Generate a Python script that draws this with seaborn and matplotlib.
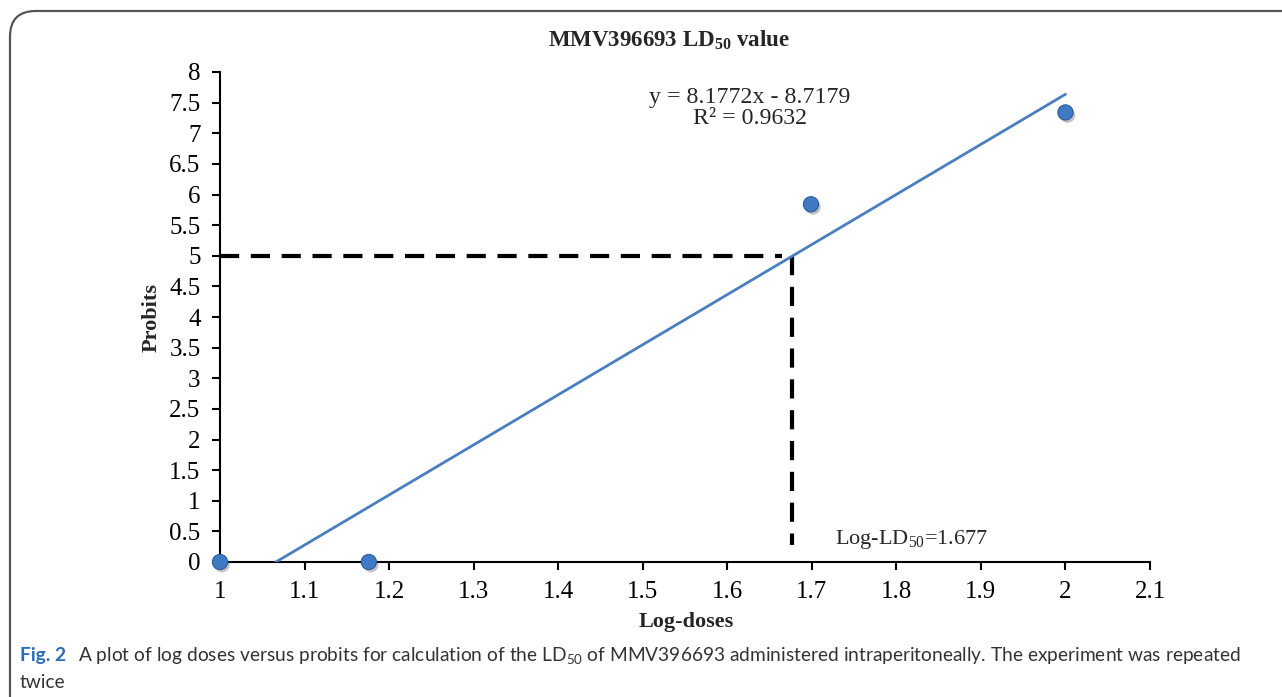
import matplotlib
matplotlib.use("Agg")
import matplotlib.pyplot as plt
import matplotlib.patheffects as pe
from matplotlib.patches import FancyBboxPatch
import seaborn as sns
import pandas as pd

# ---- data ----
log_doses = [1.0, 1.176, 1.699, 2.0]
probits = [0.0, 0.0, 5.84, 7.34]
slope = 8.1772
intercept = -8.7179
trend_x = [(-intercept) / slope, 2.0]
ld50_log = 1.677
ld50_probit = 5.0
x_ticks = [1, 1.1, 1.2, 1.3, 1.4, 1.5, 1.6, 1.7, 1.8, 1.9, 2, 2.1]
x_tick_labels = ["1", "1.1", "1.2", "1.3", "1.4", "1.5", "1.6", "1.7", "1.8", "1.9", "2", "2.1"]
y_ticks = [0, 0.5, 1, 1.5, 2, 2.5, 3, 3.5, 4, 4.5, 5, 5.5, 6, 6.5, 7, 7.5, 8]
y_tick_labels = ["0", "0.5", "1", "1.5", "2", "2.5", "3", "3.5", "4", "4.5", "5", "5.5",
                 "6", "6.5", "7", "7.5", "8"]

sns.set_theme(style="ticks")
plt.rcParams["font.family"] = ["Liberation Serif", "DejaVu Serif"]
plt.rcParams["mathtext.default"] = "regular"

W, H = 1282, 697
fig = plt.figure(figsize=(W / 100, H / 100), dpi=100)
fig.patch.set_facecolor("white")

# frame
frame = FancyBboxPatch((10 / W, -0.2), 1.2, (H - 11) / H + 0.2,
                       boxstyle="round,pad=0,rounding_size=0.02",
                       transform=fig.transFigure, fill=False,
                       edgecolor="#555555", linewidth=1.6, mutation_aspect=W / H)
fig.patches.append(frame)

ax = fig.add_axes([220 / W, 1 - 562 / H, (1150 - 220) / W, (562 - 72) / H])
ax.set_facecolor("white")

df_pts = pd.DataFrame({"x": log_doses, "y": probits})
df_line = pd.DataFrame({"x": trend_x, "y": [slope * v + intercept for v in trend_x]})

sns.lineplot(data=df_line, x="x", y="y", ax=ax, color="#4a7ebf", linewidth=2.0, zorder=3)

# dashed LD50 guides
dash = (0, (4.6, 2.8))
ax.plot([1.0, ld50_log - 0.012], [ld50_probit, ld50_probit], color="black",
        linewidth=3, linestyle=dash, zorder=2, dash_capstyle="butt")
ax.plot([ld50_log, ld50_log], [ld50_probit, 0.27], color="black",
        linewidth=3, linestyle=dash, zorder=2, dash_capstyle="butt")

sns.scatterplot(data=df_pts, x="x", y="y", ax=ax, s=120, color="#3f7ac4",
                edgecolor="#2b5c9c", linewidth=0.8, zorder=5, clip_on=False)
for coll in ax.collections:
    coll.set_path_effects([pe.SimplePatchShadow(offset=(1.5, -2), alpha=0.35, shadow_rgbFace="#555555"),
                           pe.Normal()])
    coll.set_clip_on(False)

ax.set_xlim(1, 2.1)
ax.set_ylim(0, 8)
ax.set_xticks(x_ticks)
ax.set_xticklabels(x_tick_labels)
ax.set_yticks(y_ticks)
ax.set_yticklabels(y_tick_labels)
ax.tick_params(axis="both", labelsize=18, colors="black", length=6, width=1.5,
               direction="out", pad=8)
for s in ["top", "right"]:
    ax.spines[s].set_visible(False)
for s in ["left", "bottom"]:
    ax.spines[s].set_color("black")
    ax.spines[s].set_linewidth(1.5)

ax.set_xlabel("")
ax.set_ylabel("")
fig.text(686 / W, 1 - 622 / H, "Log-doses", ha="center", va="center",
         fontsize=16, fontweight="bold")
fig.text(152 / W, 1 - 317 / H, "Probits", ha="center", va="center",
         fontsize=16, fontweight="bold", rotation=90)

fig.text(669 / W, 1 - 40 / H, "MMV396693 LD$_{50}$ value", ha="center", va="center",
         fontsize=16.5, fontweight="bold")

ax.text(1.627, 7.41, "y = 8.1772x - 8.7179\nR² = 0.9632", ha="center", va="center",
        fontsize=17.2, linespacing=1.0)
ax.text(1.728, 0.36, "Log-LD$_{50}$=1.677", ha="left", va="center", fontsize=16)

# caption
cap_font = ["Lato", "DejaVu Sans"]
fig.text(20 / W, 1 - 656 / H, "Fig. 2", ha="left", va="center", fontsize=13.8,
         fontweight="bold", color="#2a6cb5", family=cap_font)
fig.text(78 / W, 1 - 656 / H,
         "A plot of log doses versus probits for calculation of the LD$_{50}$ of MMV396693 "
         "administered intraperitoneally. The experiment was repeated",
         ha="left", va="center", fontsize=13.8, color="#333333", family=cap_font)
fig.text(20 / W, 1 - 683 / H, "twice", ha="left", va="center", fontsize=13.8,
         color="#333333", family=cap_font)

fig.savefig("out.png", dpi=100, facecolor="white")
